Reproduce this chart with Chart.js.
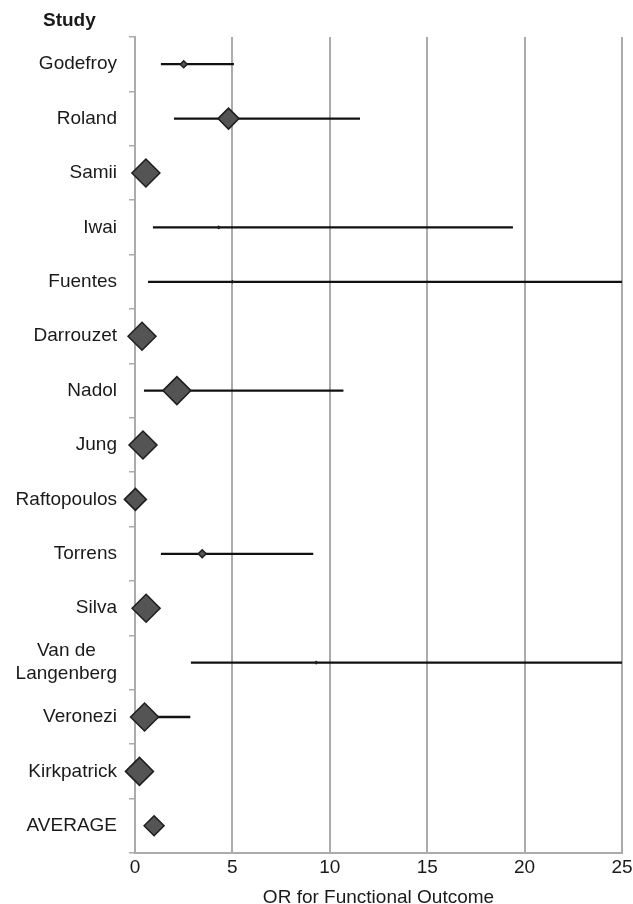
<!DOCTYPE html>
<html>
<head>
<meta charset="utf-8">
<script src="https://cdn.jsdelivr.net/npm/chart.js@4.4.1/dist/chart.umd.min.js"></script>
<style>
  body { margin: 0; background: #fff; overflow: hidden; }
  #wrap { position: relative; width: 633px; height: 904px; }
  #forestChart { display: block; }
  #studyHead {
    position: absolute; left: 43px; top: 9px;
    font: bold 19px 'Liberation Sans', Arial, sans-serif; color: #1a1a1a;
  }
</style>
</head>
<body>
<div id="wrap">
  <div id="studyHead">Study</div>
  <canvas id="forestChart" width="633" height="904"></canvas>
</div>
<script>
const studies = ['Godefroy', 'Roland', 'Samii', 'Iwai', 'Fuentes', 'Darrouzet', 'Nadol', 'Jung',
  'Raftopoulos', 'Torrens', 'Silva', 'Van de\nLangenberg', 'Veronezi', 'Kirkpatrick', 'AVERAGE'];
const oddsRatio = [2.5, 4.8, 0.56, 4.3, 5.0, 0.36, 2.15, 0.41, 0.02, 3.45, 0.57, 9.3, 0.49, 0.23, 0.98];
const ciLow  = [1.33, 2.0, null, 0.92, 0.67, null, 0.46, null, null, 1.33, null, 2.87, 0.1, null, null];
const ciHigh = [5.08, 11.55, null, 19.4, 25, null, 10.7, null, null, 9.15, null, 25, 2.84, null, null];
// relative study weight, drawn as diamond size
const studyWeight = [3.5, 10.5, 14, 1, 1, 14, 14, 14, 11, 4, 14, 1, 14, 14, 10];
const xTicks = [0, 5, 10, 15, 20, 25];

const FONT = "'Liberation Sans', Arial, sans-serif";
const TEXT = '#1a1a1a';
const GRID = '#ababab';

Chart.defaults.font.family = FONT;
Chart.defaults.font.size = 19;
Chart.defaults.color = TEXT;

// one short line per study for its confidence interval
const ciSets = studies.map((s, i) => ({
  type: 'line',
  data: ciLow[i] == null ? [] : [{x: ciLow[i], y: s}, {x: ciHigh[i], y: s}],
  borderColor: '#111',
  borderWidth: 2.3,
  pointRadius: 0,
  fill: false
}));

const ctx = document.getElementById('forestChart').getContext('2d');
new Chart(ctx, {
  type: 'scatter',
  data: {
    labels: studies,
    datasets: [
      {
        label: 'OR',
        data: studies.map((s, i) => ({x: oddsRatio[i], y: s})),
        pointStyle: 'rectRot',
        pointRadius: studyWeight,
        backgroundColor: '#545454',
        borderColor: '#1e1e1e',
        borderWidth: 1.5,
        clip: false
      },
      ...ciSets
    ]
  },
  options: {
    responsive: false,
    devicePixelRatio: 1,
    animation: false,
    events: [],
    layout: { autoPadding: false, padding: { left: 0, right: 11, top: 37, bottom: 0 } },
    plugins: {
      legend: { display: false },
      tooltip: { enabled: false }
    },
    scales: {
      x: {
        type: 'linear',
        min: 0,
        max: 25,
        afterBuildTicks: (scale) => { scale.ticks = xTicks.map(v => ({value: v})); },
        afterFit: (scale) => {
          scale.height = 51;
          scale.paddingRight = 11; // let the "25" label hang into the margin
        },
        ticks: { padding: 3, color: TEXT },
        grid: { color: GRID, lineWidth: 2, drawTicks: false },
        border: { color: GRID, width: 2 },
        title: {
          display: true,
          text: 'OR for Functional Outcome',
          color: TEXT,
          font: { size: 19, lineHeight: 0.7 },
          padding: { top: 0, bottom: 0 }
        }
      },
      y: {
        type: 'category',
        labels: studies,
        offset: true,
        afterFit: (scale) => { scale.width = 135; },
        ticks: {
          padding: 12,
          color: TEXT,
          callback: function (val) {
            const lines = this.getLabelForValue(val).split('\n');
            if (lines.length > 1) {
              // roughly centre the short first line over the second
              lines[0] = lines[0] + '    ';
            }
            return lines.length > 1 ? lines : lines[0];
          }
        },
        grid: { drawOnChartArea: false, color: GRID, lineWidth: 1.5, tickLength: 6, offset: true },
        border: { color: GRID, width: 2 }
      }
    }
  }
});
</script>
</body>
</html>
